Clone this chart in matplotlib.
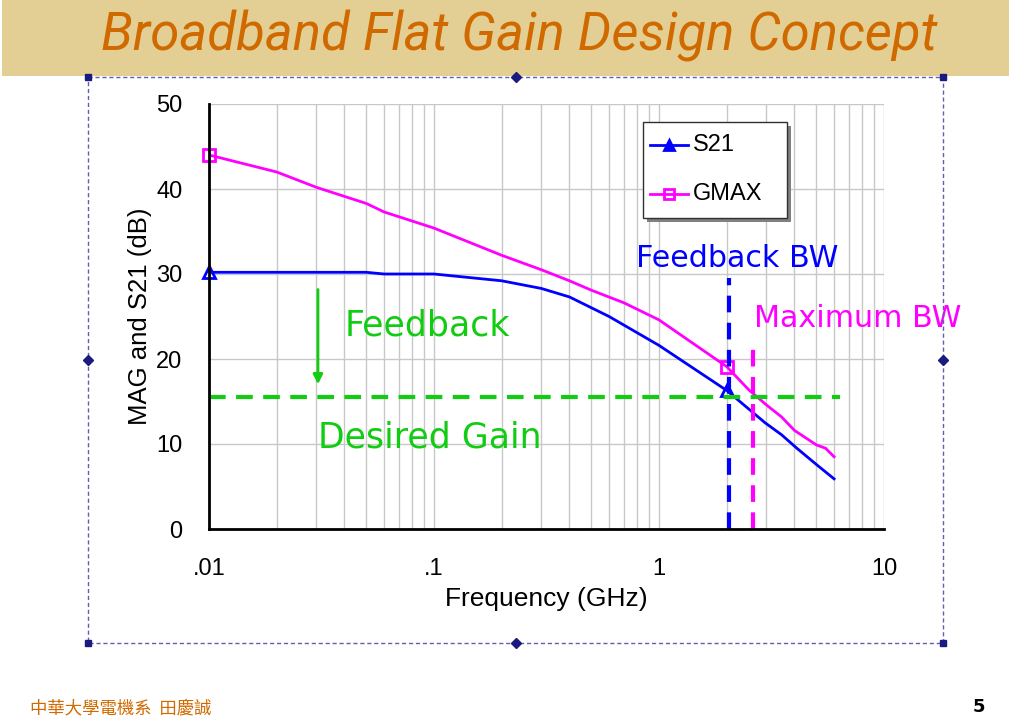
import numpy as np
import matplotlib
matplotlib.use("Agg")
import matplotlib.pyplot as plt
from matplotlib.patches import Rectangle
from matplotlib.lines import Line2D

# S21 and GMAX (MAG) vs frequency
s21_f = [0.01, 0.02, 0.05, 0.06, 0.1, 0.2, 0.3, 0.4, 0.6, 1.0, 2.0, 2.96, 3.5, 4.1, 5.0, 6.0]
s21_db = [30.2, 30.2, 30.2, 30.0, 30.0, 29.2, 28.3, 27.3, 25.0, 21.6, 16.3, 12.5, 11.1, 9.5, 7.6, 5.9]
gmax_f = [0.01, 0.02, 0.03, 0.05, 0.06, 0.1, 0.2, 0.3, 0.4, 0.5, 0.7, 1.0, 2.0, 2.5, 3.0, 3.5, 4.0, 5.0, 5.5, 6.0]
gmax_db = [44.0, 42.0, 40.2, 38.3, 37.3, 35.4, 32.2, 30.5, 29.2, 28.1, 26.6, 24.6, 19.1, 16.4, 14.6, 13.2, 11.6, 9.9, 9.5, 8.5]
marker_f = [0.01, 2.0]

desired_gain = 15.5
desired_span = [0.01, 6.4]
feedback_bw = 2.05
feedback_bw_top = 29.5
max_bw = 2.62
max_bw_top = 22.0
arrow_f = 0.0305
arrow_from, arrow_to = 28.5, 16.7

TAN = "#e3cf93"; ORANGE = "#d06a00"; NAVY = "#1a1a80"
BLUE = "#0000ff"; MAG = "#ff00ff"; GREEN = "#11cc11"
ARIAL = "Liberation Sans"

fig = plt.figure(figsize=(10.09, 7.25), dpi=100)
fig.patch.set_facecolor("white")
W, H = 1009.0, 725.0

# slide title band
fig.patches.append(Rectangle((0.002, 1 - 76 / H), 0.998, 76 / H, transform=fig.transFigure,
                             facecolor=TAN, edgecolor="none", zorder=0))
fig.text(519 / W, 1 - 36 / H, "Broadband Flat Gain Design Concept", color=ORANGE, fontsize=38,
         style="italic", ha="center", va="center", family=["Roboto", "DejaVu Sans"])

# dashed selection frame with handles
x0, x1, y0, y1 = 88 / W, 943 / W, 1 - 643 / H, 1 - 77 / H
fig.lines.append(Line2D([x0, x1, x1, x0, x0], [y1, y1, y0, y0, y1], transform=fig.transFigure,
                        color="#6060b0", lw=1.0, ls=(0, (3, 2))))
for hx, hy in [(x0, y0), (x0, y1), (x1, y0), (x1, y1)]:
    fig.lines.append(Line2D([hx], [hy], transform=fig.transFigure, marker="s", ms=5,
                            color=NAVY, ls="none"))
for hx, hy in [((x0 + x1) / 2, y0), ((x0 + x1) / 2, y1), (x0, (y0 + y1) / 2), (x1, (y0 + y1) / 2)]:
    fig.lines.append(Line2D([hx], [hy], transform=fig.transFigure, marker="D", ms=5,
                            color=NAVY, ls="none"))

ax = fig.add_axes([209 / W, 1 - 529 / H, 675 / W, 425 / H])
ax.set_xscale("log")
ax.set_xlim(0.01, 10)
ax.set_ylim(0, 50)
ax.set_yticks([0, 10, 20, 30, 40, 50])
ax.set_xticks([0.01, 0.1, 1, 10])
ax.set_xticklabels([".01", ".1", "1", "10"])
ax.grid(True, which="both", color="#c8c8c8", lw=1.0)
ax.set_axisbelow(True)
ax.tick_params(which="both", length=0, labelsize=17)
ax.tick_params(axis="x", pad=21)
ax.tick_params(axis="y", pad=19)
for side in ("top", "right"):
    ax.spines[side].set_visible(False)
for side in ("left", "bottom"):
    ax.spines[side].set_linewidth(2)
    ax.spines[side].set_color("black")
for lab in ax.get_xticklabels() + ax.get_yticklabels():
    lab.set_family(ARIAL)

ax.plot(s21_f, s21_db, color=BLUE, lw=2, label="S21")
ax.plot(gmax_f, gmax_db, color=MAG, lw=2, label="GMAX")
ax.plot(marker_f, np.interp(np.log10(marker_f), np.log10(s21_f), s21_db), ls="none", marker="^",
        ms=8, mfc="none", mec=BLUE, mew=2, clip_on=False)
ax.plot(marker_f, np.interp(np.log10(marker_f), np.log10(gmax_f), gmax_db), ls="none", marker="s",
        ms=9, mfc="none", mec=MAG, mew=2, clip_on=False)

ax.plot(desired_span, [desired_gain, desired_gain], color=GREEN, lw=3, ls=(0, (4, 2.5)))
ax.plot([feedback_bw, feedback_bw], [0, feedback_bw_top], color=BLUE, lw=3, ls=(0, (4, 2.5)))
ax.plot([max_bw, max_bw], [0, max_bw_top], color=MAG, lw=3, ls=(0, (4, 2.5)))
ax.annotate("", xy=(arrow_f, arrow_to), xytext=(arrow_f, arrow_from),
            arrowprops=dict(arrowstyle="-|>", color=GREEN, lw=2, mutation_scale=14))

ax.text(0.04, 24.0, "Feedback", color=GREEN, fontsize=25, va="center", ha="left")
ax.text(0.0305, 10.8, "Desired Gain", color=GREEN, fontsize=25, va="center", ha="left")
ax.text(0.79, 31.8, "Feedback BW", color=BLUE, fontsize=21.7, va="center", ha="left")
ax.text(2.65, 24.8, "Maximum BW", color=MAG, fontsize=21.7, va="center", ha="left", clip_on=False)

ax.set_xlabel("Frequency (GHz)", fontsize=19, family=ARIAL, labelpad=5)
ax.set_ylabel("MAG and S21 (dB)", fontsize=18.5, family=ARIAL, labelpad=3)

# legend with drop shadow
lx0, ly0 = 643 / W, 1 - 218 / H
lw_, lh_ = 144 / W, 96 / H
fig.patches.append(Rectangle((lx0 + 4 / W, ly0 - 4 / H), lw_, lh_, transform=fig.transFigure,
                             facecolor="#808080", edgecolor="none", zorder=5))
fig.patches.append(Rectangle((lx0, ly0), lw_, lh_, transform=fig.transFigure,
                             facecolor="white", edgecolor="#303030", lw=1, zorder=6))
for i, (c, m, fill, name) in enumerate([(BLUE, "^", BLUE, "S21"), (MAG, "s", "none", "GMAX")]):
    yy = 1 - (145 + 49 * i) / H
    fig.lines.append(Line2D([650 / W, 688 / W], [yy, yy], transform=fig.transFigure, color=c,
                            lw=2, zorder=7))
    fig.lines.append(Line2D([669 / W], [yy], transform=fig.transFigure, color=c, marker=m, ms=7,
                            mfc=fill, mew=2, ls="none", zorder=7))
    fig.text(693 / W, yy, name, fontsize=17, va="center", ha="left", family=ARIAL, zorder=8)

# footer
fig.text(30 / W, 1 - 708 / H, "中華大學電機系  田慶誠", color=ORANGE, fontsize=12.5,
         family=["Noto Sans CJK TC", "DejaVu Sans"], va="center", ha="left")
fig.text(985 / W, 1 - 707 / H, "5", fontsize=13, fontweight="bold", va="center", ha="right")

fig.savefig("out.png", dpi=100)
